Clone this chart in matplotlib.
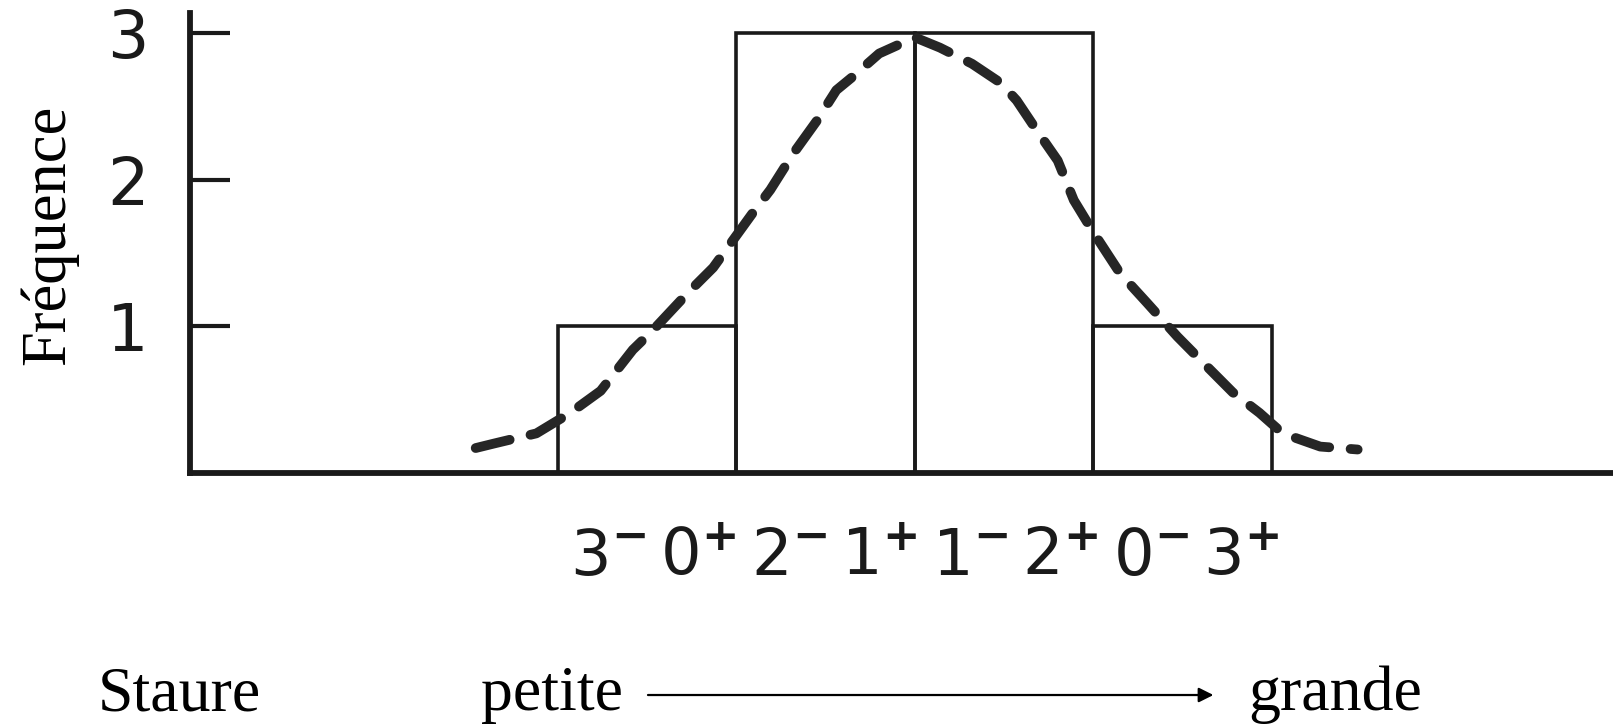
import matplotlib
matplotlib.use("Agg")
import matplotlib.pyplot as plt
import numpy as np

# histogram classes (unit width, centred on 0) and their counts
bin_left = [-2, -1, 0, 1]
counts = [1, 3, 3, 1]

# genotype labels under the axis
digits = ["3", "0", "2", "1", "1", "2", "0", "3"]
signs = ["-", "+", "-", "+", "-", "+", "-", "+"]

curve_x = [-2.46, -2.36, -2.12, -1.93, -1.76, -1.58, -1.47, -1.27, -1.13,
           -0.91, -0.81, -0.68, -0.55, -0.44, -0.35, -0.20, 0.0,
           0.14, 0.32, 0.48, 0.57, 0.68, 0.80, 0.89, 1.00, 1.15, 1.30,
           1.47, 1.60, 1.78, 1.93, 2.06, 2.27, 2.48]
curve_y = [0.17, 0.20, 0.27, 0.41, 0.56, 0.84, 0.97, 1.23, 1.40,
           1.77, 1.93, 2.18, 2.40, 2.61, 2.70, 2.86, 2.97,
           2.90, 2.79, 2.66, 2.54, 2.34, 2.13, 1.86, 1.64, 1.36, 1.16,
           0.93, 0.77, 0.55, 0.41, 0.27, 0.18, 0.16]

yticks = [1, 2, 3]

fig = plt.figure(figsize=(16.13, 7.27), dpi=100)
ax = fig.add_axes([0.1178, 0.3494, 0.8822, 0.6327])

ax.bar(bin_left, counts, width=1, align="edge", fill=False,
       edgecolor="#1a1a1a", linewidth=2.6, zorder=2)

ax.plot(curve_x, curve_y, color="#262626", linewidth=7,
        dashes=(3.6, 2.2), dash_capstyle="round", solid_joinstyle="round",
        zorder=3)

ax.set_xlim(-4.06, 3.91)
ax.set_ylim(0, 3.136)

for side in ["top", "right"]:
    ax.spines[side].set_visible(False)
for side in ["left", "bottom"]:
    ax.spines[side].set_linewidth(4.2)
    ax.spines[side].set_color("#1a1a1a")
    ax.spines[side].set_capstyle("projecting")

ax.set_yticks(yticks)
ax.set_yticklabels([str(v) for v in yticks], fontsize=47, color="#1a1a1a")
ax.tick_params(axis="y", direction="in", length=29, width=3,
               color="#1a1a1a", pad=30)

label_pos = -1.72 + 0.507 * np.arange(len(digits))
ax.set_xticks(label_pos)
ax.set_xticklabels([d + r"$^{\mathbf{%s}}$" % s for d, s in zip(digits, signs)],
                   fontsize=46, color="#1a1a1a")
ax.tick_params(axis="x", length=0, pad=38)

ax.text(-4.85, 1.62, "Fréquence", rotation=90, ha="center", va="center",
        family="Liberation Serif", fontsize=45)

fig.text(0.0605, 0.023, "Staure", family="Liberation Serif", fontsize=46,
         va="baseline")
fig.text(0.298, 0.023, "petite", family="Liberation Serif", fontsize=46,
         va="baseline")
fig.text(0.774, 0.023, "grande", family="Liberation Serif", fontsize=46,
         va="baseline")
fig.add_artist(matplotlib.patches.FancyArrowPatch(
    (0.400, 0.044), (0.754, 0.044), transform=fig.transFigure,
    arrowstyle="-|>", mutation_scale=22, linewidth=1.6, color="black"))

fig.savefig("out.png", dpi=100)
